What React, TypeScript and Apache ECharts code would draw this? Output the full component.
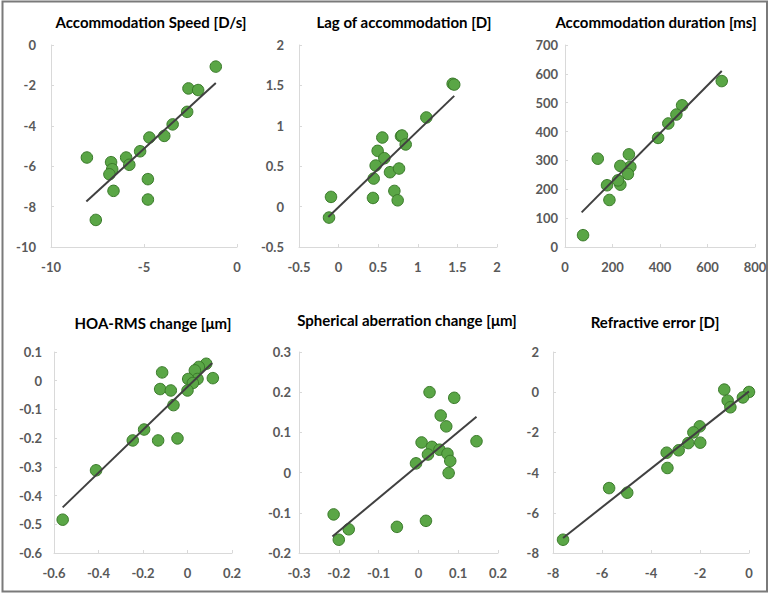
import React, { useEffect, useRef } from "react";
import * as echarts from "echarts";

// Panel titles
const titles = [
  "Accommodation Speed [D/s]",
  "Lag of accommodation [D]",
  "Accommodation duration [ms]",
  "HOA-RMS change [μm]",
  "Spherical aberration change [μm]",
  "Refractive error [D]",
];

// Panel 1: Accommodation speed
const speedX = [-1.14, -2.61, -2.09, -2.68, -3.46, -3.91, -4.71, -5.21, -5.96, -5.79, -8.07, -6.77, -6.71, -6.86, -6.64, -4.79, -4.79, -7.59];
const speedY = [-1.07, -2.15, -2.23, -3.31, -3.93, -4.5, -4.58, -5.26, -5.57, -5.93, -5.57, -5.8, -6.15, -6.4, -7.22, -6.64, -7.65, -8.66];
const speedTrendX = [-8.1, -1.14];
const speedTrendY = [-7.75, -1.88];

// Panel 2: Lag of accommodation
const lagX = [1.44, 1.46, 1.108, 0.788, 0.8, 0.847, 0.552, 0.493, 0.577, 0.468, 0.443, 0.649, 0.763, 0.704, 0.746, 0.434, -0.096, -0.121];
const lagY = [1.52, 1.51, 1.103, 0.872, 0.88, 0.769, 0.855, 0.69, 0.599, 0.508, 0.347, 0.426, 0.471, 0.194, 0.078, 0.107, 0.12, -0.136];
const lagTrendX = [-0.13, 1.46];
const lagTrendY = [-0.128, 1.37];

// Panel 3: Accommodation duration
const durX = [660, 493, 469, 435, 392, 269, 275, 233, 265, 233, 223, 177, 187, 138, 76];
const durY = [575, 491, 459, 428, 378, 321, 278, 281, 253, 216, 231, 214, 163, 306, 41];
const durTrendX = [70, 660];
const durTrendY = [120, 610];

// Panel 4: HOA-RMS change
const hoaX = [0.084, 0.051, 0.033, 0.114, 0.045, 0.003, 0.024, 0.0, -0.114, -0.123, -0.075, -0.063, -0.195, -0.246, -0.132, -0.045, -0.411, -0.561];
const hoaY = [0.059, 0.048, 0.036, 0.009, 0.006, 0.006, -0.008, -0.034, 0.029, -0.029, -0.034, -0.085, -0.17, -0.208, -0.208, -0.201, -0.312, -0.484];
const hoaTrendX = [-0.561, 0.111];
const hoaTrendY = [-0.441, 0.062];

// Panel 5: Spherical aberration change
const saX = [0.028, 0.09, 0.056, 0.07, 0.008, 0.034, 0.053, 0.024, 0.073, 0.08, -0.006, 0.076, 0.146, -0.213, -0.175, -0.2, -0.054, 0.019];
const saY = [0.2, 0.186, 0.142, 0.115, 0.075, 0.064, 0.057, 0.045, 0.047, 0.029, 0.023, -0.001, 0.078, -0.104, -0.141, -0.167, -0.135, -0.12];
const saTrendX = [-0.216, 0.146];
const saTrendY = [-0.159, 0.139];

// Panel 6: Refractive error
const reX = [0, -0.25, -1.01, -0.87, -0.76, -2.01, -2.27, -1.99, -2.48, -2.87, -3.36, -3.33, -5.71, -4.97, -7.59];
const reY = [0.01, -0.26, 0.13, -0.42, -0.75, -1.7, -2.0, -2.51, -2.53, -2.89, -3.01, -3.77, -4.77, -5.0, -7.34];
const reTrendX = [-7.59, 0];
const reTrendY = [-7.25, 0.04];

// Axis ranges [min, max, interval]
const xRanges = [
  [-10, 0, 5],
  [-0.5, 2, 0.5],
  [0, 800, 200],
  [-0.6, 0.2, 0.2],
  [-0.3, 0.2, 0.1],
  [-8, 0, 2],
];
const yRanges = [
  [-10, 0, 2],
  [-0.5, 2, 0.5],
  [0, 700, 100],
  [-0.6, 0.1, 0.1],
  [-0.2, 0.3, 0.1],
  [-8, 2, 2],
];

const pointsX = [speedX, lagX, durX, hoaX, saX, reX];
const pointsY = [speedY, lagY, durY, hoaY, saY, reY];
const trendsX = [speedTrendX, lagTrendX, durTrendX, hoaTrendX, saTrendX, reTrendX];
const trendsY = [speedTrendY, lagTrendY, durTrendY, hoaTrendY, saTrendY, reTrendY];

// Layout
const grids = [
  { left: 51, top: 45, width: 186, height: 202 },
  { left: 299, top: 45, width: 198, height: 202 },
  { left: 565, top: 45, width: 190, height: 202 },
  { left: 54, top: 352, width: 178, height: 201 },
  { left: 299, top: 352, width: 199, height: 201 },
  { left: 553, top: 352, width: 196, height: 201 },
];
const titlePos = [
  [151, 22],
  [404, 22],
  [656, 22],
  [153, 323],
  [407, 320],
  [655, 322],
];
const yLabelMargin = [15, 15, 7, 12, 8, 14];

const FONT = "Lato, 'Open Sans', sans-serif";

export default function App() {
  const ref = useRef<HTMLDivElement>(null);
  useEffect(() => {
    if (!ref.current) return;
    const chart = echarts.init(ref.current, null, { renderer: "svg" });
    const axisCommon = {
      type: "value" as const,
      axisLine: { show: true, onZero: false, lineStyle: { color: "#d9d9d9", width: 1 } },
      axisTick: { show: true, inside: true, length: 3, lineStyle: { color: "#d9d9d9" } },
      splitLine: { show: false },
    };
    const xAxis = xRanges.map((r, i) => ({
      ...axisCommon,
      gridIndex: i,
      min: r[0],
      max: r[1],
      interval: r[2],
      axisLabel: { color: "#595959", fontSize: 13, fontWeight: "bold", fontFamily: FONT, margin: 13 },
    }));
    const yAxis = yRanges.map((r, i) => ({
      ...axisCommon,
      gridIndex: i,
      min: r[0],
      max: r[1],
      interval: r[2],
      axisLabel: { color: "#595959", fontSize: 13, fontWeight: "bold", fontFamily: FONT, margin: yLabelMargin[i] },
    }));
    const series: any[] = [];
    for (let i = 0; i < 6; i++) {
      series.push({
        type: "scatter",
        xAxisIndex: i,
        yAxisIndex: i,
        symbolSize: 11.5,
        itemStyle: { color: "#5aa646", borderColor: "#3a7a2a", borderWidth: 1, opacity: 1 },
        data: pointsX[i].map((x, k) => [x, pointsY[i][k]]),
        z: 2,
      });
      series.push({
        type: "line",
        xAxisIndex: i,
        yAxisIndex: i,
        showSymbol: false,
        symbol: "none",
        lineStyle: { color: "#404040", width: 2 },
        data: trendsX[i].map((x, k) => [x, trendsY[i][k]]),
        z: 3,
      });
    }
    chart.setOption({
      animation: false,
      backgroundColor: "#ffffff",
      grid: grids,
      xAxis,
      yAxis,
      series,
      graphic: [
        {
          type: "rect",
          shape: { x: 2.5, y: 1.5, width: 764.5, height: 590 },
          style: { fill: "none", stroke: "#7a7a7a", lineWidth: 2 },
          silent: true,
        },
        ...titles.map((t, i) => ({
          type: "text",
          x: titlePos[i][0],
          y: titlePos[i][1],
          style: {
            text: t,
            fill: "#000000",
            font: `bold 15px ${FONT}`,
            textAlign: "center",
            textVerticalAlign: "middle",
          },
        })),
      ],
    });
    return () => chart.dispose();
  }, []);
  return (
    <div
      ref={ref}
      style={{ position: "absolute", left: 0, top: 0, width: 774, height: 597 }}
    />
  );
}
